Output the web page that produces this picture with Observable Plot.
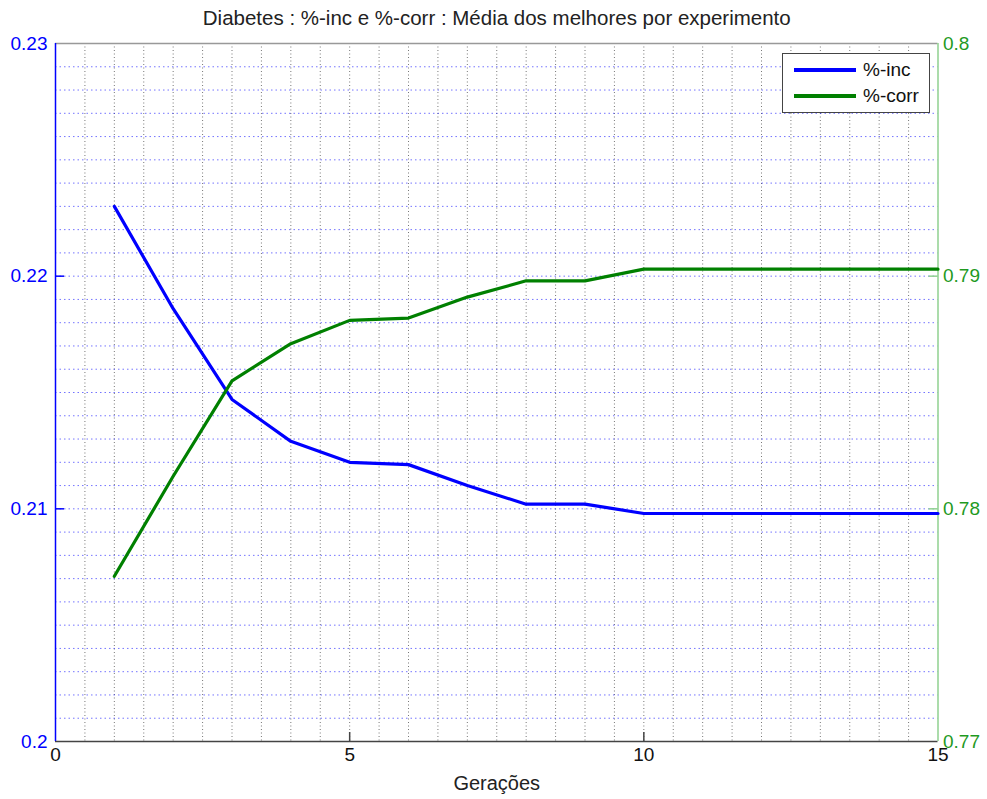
<!DOCTYPE html>
<html>
<head>
<meta charset="utf-8">
<script src="https://cdn.jsdelivr.net/npm/d3@7"></script>
<script src="https://cdn.jsdelivr.net/npm/@observablehq/plot@0.6"></script>
<style>
  html, body { margin: 0; padding: 0; background: #fff; }
  #wrap { position: relative; width: 987px; height: 799px; font-family: "Liberation Sans", Arial, sans-serif; }
  #legend { position: absolute; left: 782px; top: 53px; width: 148px; height: 60px; border: 1.5px solid #444; background: #fff; box-sizing: border-box; }
  .row { position: absolute; left: 0; height: 20px; display: flex; align-items: center; }
  .swatch { display: inline-block; width: 62px; height: 3.5px; margin-left: 11px; margin-right: 7px; }
  .lab { font-size: 19px; color: #111; }
</style>
</head>
<body>
<div id="wrap"></div>
<script>
// ---- data ----
const generations = [1, 2, 3, 4, 5, 6, 7, 8, 9, 10, 11, 12, 13, 14, 15];
const pctInc  = [0.2230, 0.2186, 0.2147, 0.2129, 0.2120, 0.2119, 0.2110, 0.2102, 0.2102, 0.2098, 0.2098, 0.2098, 0.2098, 0.2098, 0.2098];
const pctCorr = [0.7771, 0.7814, 0.7855, 0.7871, 0.7881, 0.7882, 0.7891, 0.7898, 0.7898, 0.7903, 0.7903, 0.7903, 0.7903, 0.7903, 0.7903];
const xTicks = [0, 5, 10, 15];
const leftTicks = [0.2, 0.21, 0.22, 0.23];
const rightTicks = [0.77, 0.78, 0.79, 0.8];
const seriesNames = ["%-inc", "%-corr"];
const titleText = "Diabetes : %-inc e %-corr : Média dos melhores por experimento";
const xLabel = "Gerações";

// right axis maps onto left axis domain
const offset = rightTicks[0] - leftTicks[0];

const incData = generations.map((g, i) => ({g, v: pctInc[i]}));
const corrData = generations.map((g, i) => ({g, v: pctCorr[i] - offset}));

const xMinor = d3.range(0.5, 15, 0.5);
const yMinor = d3.range(1, 30).map(k => 0.2 + k * 0.001);

const blue = "#0000ff", green = "#008000", lightGreen = "#8fd18f";

const chart = Plot.plot({
  width: 987,
  height: 799,
  marginLeft: 55,
  marginRight: 49.5,
  marginTop: 43,
  marginBottom: 58,
  x: {domain: [0, 15]},
  y: {domain: [0.2, 0.23]},
  style: {fontFamily: "Liberation Sans, Arial, sans-serif", fontSize: "19px", background: "#fff", overflow: "visible"},
  marks: [
    Plot.ruleX(xMinor, {stroke: "#777", strokeWidth: 1, strokeDasharray: "1,2.5"}),
    Plot.ruleY(yMinor, {stroke: blue, strokeOpacity: 0.55, strokeWidth: 1, strokeDasharray: "1.5,3"}),
    // frame
    Plot.ruleY([0.23], {stroke: "#999", strokeWidth: 1.5}),
    Plot.ruleY([0.2], {stroke: "#444", strokeWidth: 1.5}),
    Plot.ruleX([0], {stroke: blue, strokeWidth: 1.5}),
    Plot.ruleX([15], {stroke: lightGreen, strokeWidth: 1.5}),
    // inward ticks
    Plot.ruleX(xTicks.slice(1, -1), {y1: 0.2, y2: 0.2, insetBottom: 9, stroke: "#444", strokeWidth: 1.5}),
    Plot.ruleY(leftTicks.slice(1, -1), {x1: 0, x2: 0, insetRight: -9, stroke: blue, strokeWidth: 1.5}),
    Plot.ruleY(leftTicks.slice(1, -1), {x1: 15, x2: 15, insetLeft: -9, stroke: lightGreen, strokeWidth: 1.5}),
    // axes labels
    Plot.axisX(xTicks, {tickSize: 0, tickPadding: 6, fill: "#111", label: null, tickFormat: d => String(d)}),
    Plot.axisY(leftTicks, {anchor: "left", tickSize: 0, tickPadding: 8, fill: blue, label: null, tickFormat: d => String(+d.toFixed(2))}),
    Plot.axisY(leftTicks, {anchor: "right", tickSize: 0, tickPadding: 5, fill: "#1f9a1f", label: null, tickFormat: d => String(+(d + offset).toFixed(2))}),
    // lines
    Plot.line(incData, {x: "g", y: "v", stroke: blue, strokeWidth: 3.2}),
    Plot.line(corrData, {x: "g", y: "v", stroke: green, strokeWidth: 3.2}),
    // title & x label
    Plot.text([titleText], {frameAnchor: "top", dy: -25, lineAnchor: "middle", fill: "#222", fontSize: 20.5}),
    Plot.text([xLabel], {frameAnchor: "bottom", dy: 42, lineAnchor: "middle", fill: "#222", fontSize: 20})
  ]
});

const wrap = document.getElementById("wrap");
wrap.appendChild(chart);

const legend = document.createElement("div");
legend.id = "legend";
const colors = [blue, green];
seriesNames.forEach((name, i) => {
  const row = document.createElement("div");
  row.className = "row";
  row.style.top = (6 + i * 26) + "px";
  const sw = document.createElement("span");
  sw.className = "swatch";
  sw.style.background = colors[i];
  const lab = document.createElement("span");
  lab.className = "lab";
  lab.textContent = name;
  row.appendChild(sw);
  row.appendChild(lab);
  legend.appendChild(row);
});
wrap.appendChild(legend);
</script>
</body>
</html>
